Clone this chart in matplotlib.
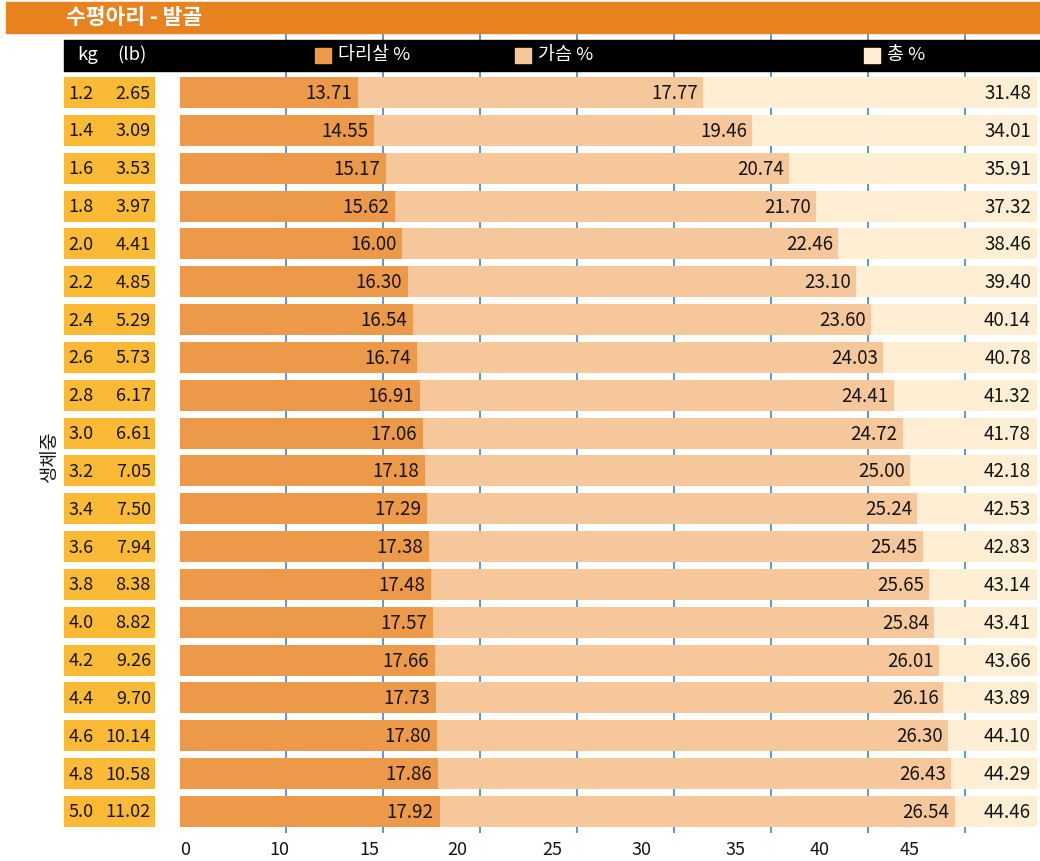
import numpy as np
import matplotlib
matplotlib.use("Agg")
import matplotlib.pyplot as plt
from matplotlib.patches import Rectangle

plt.rcParams['font.family'] = ['Noto Sans CJK KR', 'DejaVu Sans']

# ---------------- data ----------------
kg = ["1.2", "1.4", "1.6", "1.8", "2.0", "2.2", "2.4", "2.6", "2.8", "3.0",
      "3.2", "3.4", "3.6", "3.8", "4.0", "4.2", "4.4", "4.6", "4.8", "5.0"]
lb = ["2.65", "3.09", "3.53", "3.97", "4.41", "4.85", "5.29", "5.73", "6.17", "6.61",
      "7.05", "7.50", "7.94", "8.38", "8.82", "9.26", "9.70", "10.14", "10.58", "11.02"]
leg = [13.71, 14.55, 15.17, 15.62, 16.00, 16.30, 16.54, 16.74, 16.91, 17.06,
       17.18, 17.29, 17.38, 17.48, 17.57, 17.66, 17.73, 17.80, 17.86, 17.92]
breast = [17.77, 19.46, 20.74, 21.70, 22.46, 23.10, 23.60, 24.03, 24.41, 24.72,
          25.00, 25.24, 25.45, 25.65, 25.84, 26.01, 26.16, 26.30, 26.43, 26.54]
total = [31.48, 34.01, 35.91, 37.32, 38.46, 39.40, 40.14, 40.78, 41.32, 41.78,
         42.18, 42.53, 42.83, 43.14, 43.41, 43.66, 43.89, 44.10, 44.29, 44.46]
grid_values = [10, 15, 20, 25, 30, 35, 40, 45]
tick_labels = ["0", "10", "15", "20", "25", "30", "35", "40", "45"]
series_names = ["다리살 %", "가슴 %", "총 %"]
title = "수평아리 - 발골"
ylabel = "생체중"

# ---------------- layout ----------------
W, H = 1040, 861
def fx(px): return px / W
def fy(py): return 1 - py / H

C_LEG = "#ED994A"
C_BREAST = "#F5C79B"
C_TOTAL = "#FEEED4"
C_CELL = "#FBBA36"
C_TITLE = "#E8821F"
C_GRID = "#2F7DC6"
C_TEXT = "#151515"

X0_PX, PX_PER_UNIT = 92.0, 19.4
PLOT_L, PLOT_R = 180, 1037
PLOT_T, PLOT_B = 33, 833
ROW0, PITCH, BAR_H = 92.5, 37.84, 31

fig = plt.figure(figsize=(W / 100, H / 100), dpi=100)

ax = fig.add_axes([fx(PLOT_L), fy(PLOT_B), (PLOT_R - PLOT_L) / W, (PLOT_B - PLOT_T) / H])
ax.set_xlim((PLOT_L - X0_PX) / PX_PER_UNIT, (PLOT_R - X0_PX) / PX_PER_UNIT)
y_top = -(ROW0 - PLOT_T) / PITCH
y_bot = (PLOT_B - ROW0) / PITCH
ax.set_ylim(y_bot, y_top)
ax.axis('off')

n = len(kg)
y = np.arange(n)
leg_a = np.array(leg)
br_a = np.array(breast)
tot_a = np.array(total)
h = BAR_H / PITCH

ax.vlines(grid_values, y_top, y_bot, color=C_GRID, lw=1.1, zorder=1)
ax.barh(y, leg_a, height=h, color=C_LEG, zorder=2)
ax.barh(y, br_a, left=leg_a, height=h, color=C_BREAST, zorder=2)
ax.barh(y, tot_a, left=leg_a + br_a, height=h, color=C_TOTAL, zorder=2)

VFS = 13.5
for i in range(n):
    ax.annotate(f"{leg[i]:.2f}", (leg_a[i], y[i]), xytext=(-6, -1), textcoords='offset pixels',
                ha='right', va='center', fontsize=VFS, color=C_TEXT, zorder=5)
    ax.annotate(f"{breast[i]:.2f}", (leg_a[i] + br_a[i], y[i]), xytext=(-5, -1), textcoords='offset pixels',
                ha='right', va='center', fontsize=VFS, color=C_TEXT, zorder=5)
    ax.annotate(f"{total[i]:.2f}", (1, y[i]), xycoords=('axes fraction', 'data'), xytext=(-6, -1),
                textcoords='offset pixels', ha='right', va='center', fontsize=VFS, color=C_TEXT, zorder=5)

# left cells
axl = fig.add_axes([fx(64), fy(PLOT_B), (155 - 64) / W, (PLOT_B - PLOT_T) / H])
axl.set_xlim(0, 1)
axl.set_ylim(y_bot, y_top)
axl.axis('off')
axl.barh(y, [1] * n, height=h, color=C_CELL)
for i in range(n):
    axl.annotate(kg[i], (0.05, y[i]), xytext=(0, -1), textcoords='offset pixels',
                 ha='left', va='center', fontsize=13, color=C_TEXT)
    axl.annotate(lb[i], (0.955, y[i]), xytext=(0, -1), textcoords='offset pixels',
                 ha='right', va='center', fontsize=13, color=C_TEXT)

# title bar
fig.patches.append(Rectangle((fx(6), fy(33)), fx(1040) - fx(6), 31 / H,
                             transform=fig.transFigure, color=C_TITLE, zorder=3))
fig.text(fx(66), fy(17.5), title, color='white', fontweight='bold', fontsize=15.5,
         ha='left', va='center', zorder=4)

# header bar
fig.patches.append(Rectangle((fx(64), fy(71)), fx(1040) - fx(64), 31 / H,
                             transform=fig.transFigure, color='black', zorder=3))
fig.text(fx(77), fy(55), "kg", color='white', fontsize=13.3, ha='left', va='center', zorder=4)
fig.text(fx(117), fy(55), "(lb)", color='white', fontsize=13.3, ha='left', va='center', zorder=4)
for sx, col, name in zip([315, 515, 864], [C_LEG, C_BREAST, C_TOTAL], series_names):
    fig.patches.append(Rectangle((fx(sx), fy(63)), 16 / W, 15 / H,
                                 transform=fig.transFigure, color=col, zorder=4))
    fig.text(fx(sx + 23), fy(55), name, color='white', fontsize=13.3, ha='left', va='center', zorder=5)

# y label
fig.text(fx(50), fy(457), ylabel, rotation=90, ha='center', va='center', fontsize=13.5, color=C_TEXT)

# x tick labels
tick_px = [185, 279, 369, 457, 552, 642, 735, 820, 910]
for px, lab in zip(tick_px, tick_labels):
    fig.text(fx(px), fy(850), lab, ha='center', va='center', fontsize=13, color=C_TEXT)

fig.savefig("out.png", dpi=100)
